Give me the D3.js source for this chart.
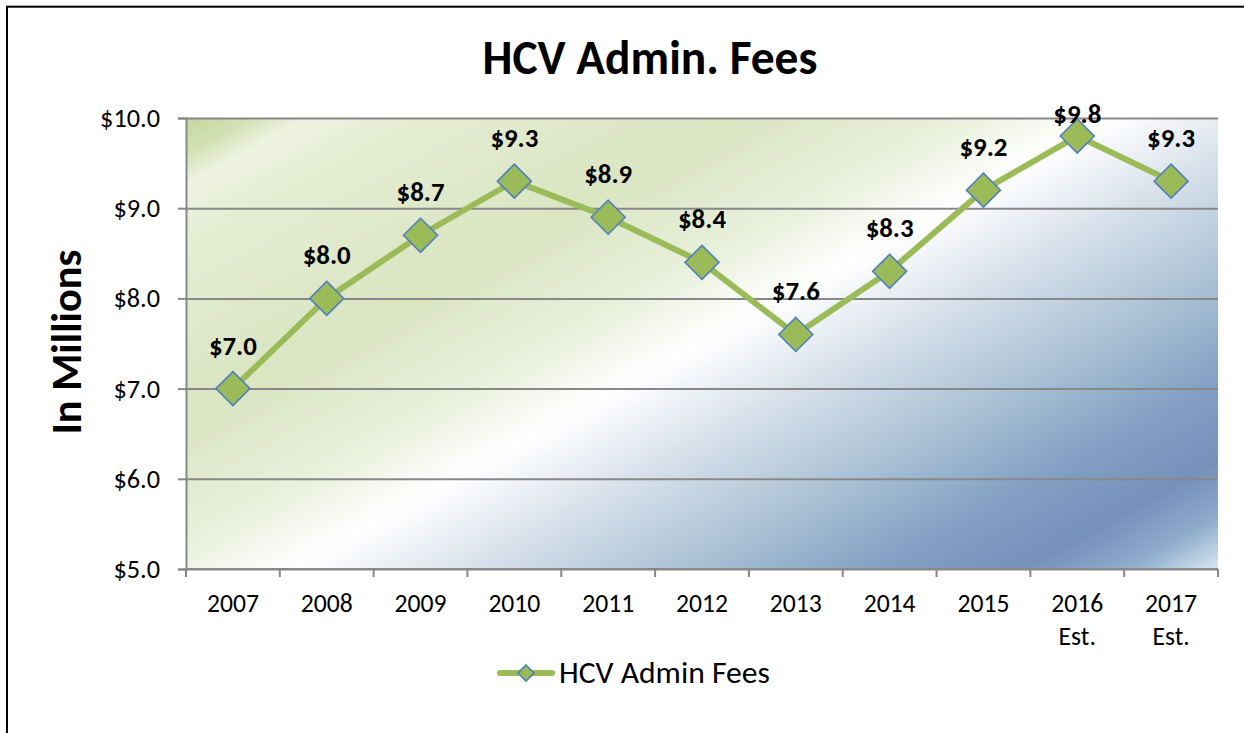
<!DOCTYPE html>
<html>
<head>
<meta charset="utf-8">
<script src="https://cdn.jsdelivr.net/npm/d3@7"></script>
<style>
  html, body { margin: 0; padding: 0; background: #fff; }
  svg { display: block; }
  text { font-family: Carlito, Calibri, Lato, "Liberation Sans", sans-serif; fill: #000; }
</style>
</head>
<body>
<svg id="chart" width="1244" height="733"></svg>
<script>
// ---- data ----
const categories = ["2007", "2008", "2009", "2010", "2011", "2012", "2013", "2014", "2015", "2016 Est.", "2017 Est."];
const values = [7.0, 8.0, 8.7, 9.3, 8.9, 8.4, 7.6, 8.3, 9.2, 9.8, 9.3];
const yTicks = [5, 6, 7, 8, 9, 10];
const seriesName = "HCV Admin Fees";
const titleText = "HCV Admin. Fees";
const yTitle = "In Millions";

// ---- layout ----
const W = 1244, H = 733;
const plot = { left: 186, right: 1218, top: 118, bottom: 569 };
const lineColor = "#9bbb59", markerStroke = "#4f81bd", axisColor = "#888888";

const svg = d3.select("#chart");

// fit font size so a string reaches a target width
function fitSize(str, weight, target, base) {
  const t = svg.append("text").attr("font-size", base).attr("font-weight", weight).text(str);
  const w = t.node().getComputedTextLength();
  t.remove();
  return base * target / w;
}

const x = d3.scaleBand().domain(categories).range([plot.left, plot.right]).padding(0);
const y = d3.scaleLinear().domain([5, 10]).range([plot.bottom, plot.top]);

// outer frame
svg.append("rect").attr("x", 7).attr("y", 6.7).attr("width", 1400).attr("height", 1000)
  .attr("fill", "none").attr("stroke", "#000").attr("stroke-width", 2);

// gradient background
const defs = svg.append("defs");
const dir = [0.482, 0.876], L = 892;
const grad = defs.append("linearGradient").attr("id", "bg")
  .attr("gradientUnits", "userSpaceOnUse")
  .attr("x1", plot.left).attr("y1", plot.top)
  .attr("x2", plot.left + dir[0] * L).attr("y2", plot.top + dir[1] * L);
[
  [0.00, "#c3d69b"], [0.035, "#d2e1b3"], [0.066, "#eef3e2"], [0.12, "#e5edd3"],
  [0.30, "#dae5c2"], [0.42, "#e9f0dc"], [0.50, "#ffffff"], [0.60, "#d6e0ea"],
  [0.72, "#a7bfd3"], [0.82, "#819fc2"], [0.895, "#7690bb"], [0.95, "#8eaccb"], [1.0, "#d8e6f2"]
].forEach(([o, c]) => grad.append("stop").attr("offset", o).attr("stop-color", c));

svg.append("rect").attr("x", plot.left).attr("y", plot.top)
  .attr("width", plot.right - plot.left).attr("height", plot.bottom - plot.top)
  .attr("fill", "url(#bg)");

// gridlines + y axis
const tickFont = fitSize("$10.0", 400, 60, 24);
const yAxis = svg.append("g").attr("transform", `translate(${plot.left},0)`)
  .call(d3.axisLeft(y).tickValues(yTicks).tickFormat(d => "$" + d.toFixed(1)).tickSize(8).tickPadding(18));
yAxis.select(".domain").attr("stroke", axisColor).attr("stroke-width", 2);
yAxis.selectAll(".tick line").attr("stroke", axisColor).attr("stroke-width", 2);
yAxis.selectAll(".tick text").attr("font-size", tickFont).attr("font-family", null).attr("fill", "#000");

svg.append("g").attr("transform", `translate(${plot.left},0)`)
  .call(d3.axisLeft(y).tickValues(yTicks).tickSize(-(plot.right - plot.left)).tickFormat(""))
  .call(g => g.select(".domain").remove())
  .selectAll(".tick line").attr("stroke", axisColor).attr("stroke-width", 2);

// x axis line & boundary ticks
const xg = svg.append("g");
xg.append("line").attr("x1", plot.left).attr("x2", plot.right)
  .attr("y1", y(5)).attr("y2", y(5)).attr("stroke", axisColor).attr("stroke-width", 2);
const bounds = categories.map(c => x(c)).concat([x(categories[categories.length - 1]) + x.bandwidth()]);
xg.selectAll("line.tk").data(bounds).join("line").attr("class", "tk")
  .attr("x1", d => d).attr("x2", d => d).attr("y1", y(5)).attr("y2", y(5) + 8)
  .attr("stroke", axisColor).attr("stroke-width", 2);

const yearFont = fitSize("2007", 400, 52, 24);
categories.forEach(c => {
  const parts = c.split(" ");
  const t = xg.append("text").attr("text-anchor", "middle").attr("font-size", yearFont)
    .attr("x", x(c) + x.bandwidth() / 2).attr("y", 612);
  parts.forEach((p, i) => t.append("tspan").attr("x", x(c) + x.bandwidth() / 2)
    .attr("y", 612 + i * 33).text(p));
});

// line
const line = d3.line().x((d, i) => x(categories[i]) + x.bandwidth() / 2).y(d => y(d));
svg.append("path").datum(values).attr("d", line).attr("fill", "none")
  .attr("stroke", lineColor).attr("stroke-width", 6).attr("stroke-linejoin", "round");

// markers
const diamond = (r) => `M0,${-r}L${r},0L0,${r}L${-r},0Z`;
svg.selectAll("path.mk").data(values).join("path").attr("class", "mk")
  .attr("transform", (d, i) => `translate(${x(categories[i]) + x.bandwidth() / 2},${y(d)})`)
  .attr("d", diamond(17)).attr("fill", lineColor).attr("stroke", markerStroke).attr("stroke-width", 1.6);

// data labels
const lblFont = fitSize("$7.0", 700, 48, 24);
svg.selectAll("text.lbl").data(values).join("text").attr("class", "lbl")
  .attr("text-anchor", "middle").attr("font-weight", 700).attr("font-size", lblFont)
  .attr("x", (d, i) => x(categories[i]) + x.bandwidth() / 2)
  .attr("y", d => Math.max(y(d) - 34, 123))
  .text(d => "$" + d.toFixed(1));

// title
const titleFont = fitSize(titleText, 700, 335, 40);
svg.append("text").attr("x", 650).attr("y", 74).attr("text-anchor", "middle")
  .attr("font-weight", 700).attr("font-size", titleFont).text(titleText);

// y title
const ytFont = fitSize(yTitle, 700, 185, 34);
svg.append("text").attr("transform", "translate(81,342) rotate(-90)").attr("text-anchor", "middle")
  .attr("font-weight", 700).attr("font-size", ytFont).text(yTitle);

// legend
const lg = svg.append("g").attr("transform", "translate(0,673)");
lg.append("line").attr("x1", 500).attr("x2", 552).attr("y1", 0).attr("y2", 0)
  .attr("stroke", lineColor).attr("stroke-width", 6).attr("stroke-linecap", "round");
lg.append("path").attr("transform", "translate(526,0)").attr("d", diamond(8))
  .attr("fill", lineColor).attr("stroke", markerStroke).attr("stroke-width", 1.6);
const legFont = fitSize(seriesName, 400, 211, 26);
lg.append("text").attr("x", 559).attr("y", 10).attr("font-size", legFont).text(seriesName);
</script>
</body>
</html>
